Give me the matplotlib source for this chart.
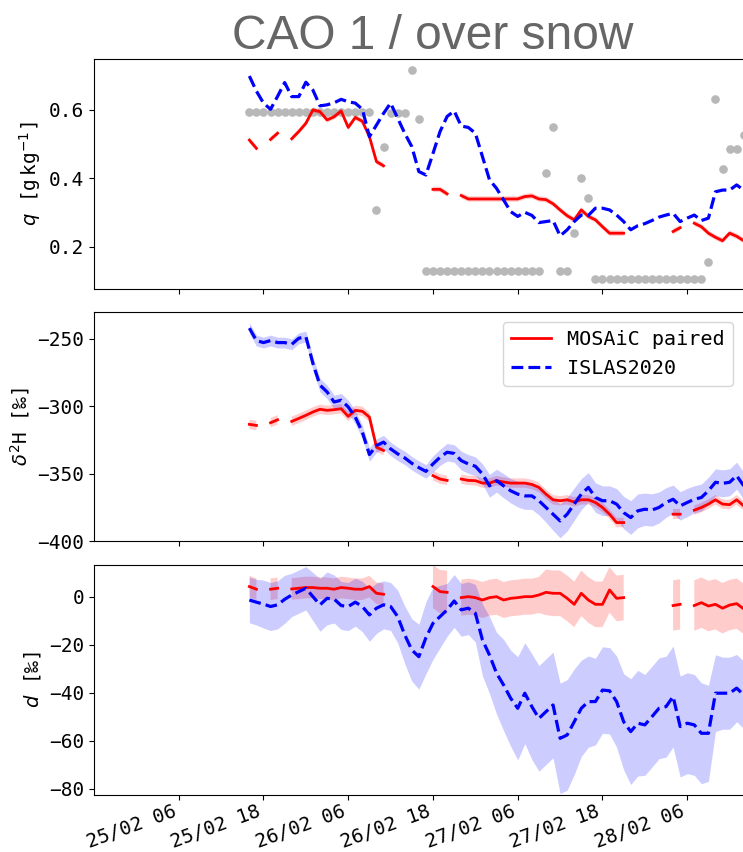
import numpy as np
import pandas as pd
import matplotlib
matplotlib.use('Agg')
import matplotlib.pyplot as plt
import matplotlib.dates as mdates

plt.rcParams['font.family'] = ['DejaVu Sans Mono', 'DejaVu Sans']

nan = np.nan

# hourly time axis, 25/02 16:00 -> 28/02 14:00
times = pd.date_range('2020-02-25 16:00', '2020-02-28 14:00', freq='h')
tick_times = pd.to_datetime(['2020-02-25 06:00', '2020-02-25 18:00', '2020-02-26 06:00',
                             '2020-02-26 18:00', '2020-02-27 06:00', '2020-02-27 18:00',
                             '2020-02-28 06:00'])

# gray dots (q panel)
dots_q = [0.595] * 18 + [0.307, 0.491, 0.592, 0.592, 0.592, 0.718, 0.575] + \
         [0.129] * 17 + [0.416, 0.550, 0.129, 0.129, 0.242, 0.402, 0.343] + \
         [0.107] * 16 + [0.156, 0.633, 0.428, 0.485, 0.485, 0.526]

islas_q = [0.699, 0.655, 0.620, 0.602, 0.640, 0.680, 0.639, 0.639, 0.681, 0.658,
           0.612, 0.615, 0.621, 0.631, 0.624, 0.620, 0.602, 0.522, 0.556, 0.590,
           0.620, 0.576, 0.532, 0.493, 0.420, 0.410, 0.473, 0.537, 0.581, 0.597,
           0.553, 0.549, 0.532, 0.464, 0.396, 0.371, 0.337, 0.303, 0.289, 0.301,
           0.292, 0.271, 0.274, 0.277, 0.232, 0.250, 0.274, 0.293, 0.292, 0.313,
           0.313, 0.308, 0.293, 0.274, 0.250, 0.262, 0.268, 0.277, 0.287, 0.293,
           0.298, 0.274, 0.284, 0.293, 0.277, 0.284, 0.361, 0.366, 0.366, 0.381,
           0.366]

mosaic_q = [0.512, 0.488, nan, 0.514, 0.532, nan, 0.516, 0.537, 0.561, 0.600,
            0.595, 0.571, 0.580, 0.597, 0.549, 0.578, 0.567, 0.522, 0.449, 0.437,
            nan, nan, nan, nan, nan, nan, 0.368, 0.368, 0.355, nan,
            0.350, 0.340, 0.340, 0.340, 0.340, 0.340, 0.340, 0.340, 0.340, 0.347,
            0.349, 0.340, 0.338, 0.326, 0.308, 0.291, 0.279, 0.308, 0.289, 0.279,
            0.259, 0.240, 0.240, 0.240, nan, nan, nan, nan, nan, nan,
            0.245, 0.256, nan, 0.269, 0.259, 0.240, 0.228, 0.218, 0.240, 0.231,
            0.218]
mosaic_q_sd = 0.008

islas_dD = [-242.0, -251.2, -252.7, -251.2, -252.7, -252.7, -254.0, -249.5, -248.3, -268.2,
            -284.3, -289.3, -296.8, -295.5, -300.5, -308.0, -319.2, -335.8, -329.1, -326.6,
            -331.6, -335.3, -338.3, -342.3, -345.5, -348.3, -342.8, -337.8, -334.1, -335.0,
            -340.3, -342.8, -344.5, -350.2, -359.0, -355.2, -359.0, -362.7, -365.2, -366.5,
            -366.5, -370.1, -375.1, -380.1, -385.1, -380.1, -372.6, -365.2, -360.2, -367.7,
            -370.1, -370.1, -372.6, -378.9, -382.6, -377.6, -376.4, -377.0, -375.1, -371.4,
            -369.0, -373.9, -371.4, -369.0, -367.7, -362.7, -356.4, -357.2, -356.4, -351.5,
            -359.0]
islas_dD_sd = [4, 4, 4, 4, 4, 4, 4, 4, 4, 5,
               5, 5, 5, 5, 5, 5, 5, 5, 5, 5,
               5, 5, 5, 5, 5, 5, 6, 6, 6.5, 6.5,
               7, 7, 7, 7.5, 8.5, 8.5, 9, 9, 9.5, 10,
               10, 10.5, 11, 12, 12.5, 12.5, 12, 11.5, 11, 11,
               11, 11, 11.5, 12, 12.5, 12.5, 12, 12, 11.5, 11,
               10.5, 10.5, 10.5, 10, 10, 10, 10, 10, 10, 10,
               10]

mosaic_dD = [-313.4, -314.2, nan, -312.2, -310.0, nan, -311.2, -309.0, -306.7, -304.2,
             -302.2, -303.0, -302.5, -301.8, -307.5, -303.0, -303.7, -308.0, -330.4, -332.8,
             nan, nan, nan, nan, nan, nan, -351.5, -354.0, -355.0, nan,
             -354.0, -355.0, -355.2, -357.0, -357.0, -355.2, -356.2, -357.0, -357.0, -357.0,
             -358.0, -360.2, -365.2, -369.4, -370.1, -369.4, -371.0, -369.4, -369.4, -371.4,
             -375.1, -380.1, -386.3, -386.3, nan, nan, nan, nan, nan, nan,
             -380.1, -380.1, nan, -377.1, -375.1, -372.6, -369.4, -372.6, -373.0, -369.4,
             -373.9]
mosaic_dD_sd = 3.5

islas_d = [-1.3, -2.2, -3.0, -4.0, -3.3, -1.0, 0.8, 2.2, 3.6, 0.1,
           -3.3, -0.6, -0.9, -3.6, -4.0, -2.2, -4.0, -7.5, -4.7, -3.3,
           -4.0, -8.2, -15.8, -22.1, -24.9, -17.0, -11.0, -8.2, -5.4, -1.7,
           -5.4, -4.7, -6.8, -17.9, -24.2, -31.8, -36.7, -42.2, -46.4, -40.1,
           -45.7, -50.6, -47.8, -45.0, -58.9, -57.5, -52.0, -46.4, -43.6, -43.6,
           -38.8, -39.1, -43.6, -52.0, -56.1, -52.6, -53.3, -49.9, -46.4, -45.7,
           -41.5, -54.0, -52.6, -53.3, -56.8, -56.8, -40.1, -40.1, -40.1, -38.0,
           -40.8]
islas_d_sd = [9.5, 9.5, 10, 10, 10, 10, 9, 9, 9, 10,
              11, 11, 10, 10, 10, 10, 10.5, 11, 10.5, 10,
              10, 11, 12, 13, 13.5, 15, 15, 13, 11, 11,
              11, 11, 12, 15, 16, 17, 19, 20, 21.5, 21,
              22, 22, 22, 22, 23, 23, 22, 20, 19, 18,
              18, 18, 19, 20, 22, 22, 21, 21, 21, 21,
              21, 21, 21, 21, 21, 20, 16, 15, 15, 14,
              14]

mosaic_d = [4.3, 3.2, nan, 3.2, 3.6, nan, 3.3, 3.6, 3.9, 3.9,
            3.6, 3.6, 3.2, 3.9, 3.6, 3.2, 3.2, 4.3, 1.5, 1.1,
            nan, nan, nan, nan, nan, nan, 4.3, 2.2, 1.9, nan,
            -0.3, 0.1, -0.3, -1.3, -0.3, 0.1, -1.3, -0.6, -0.3, 0.1,
            0.1, 0.8, 1.9, 1.5, 1.5, -0.6, -3.1, 1.5, -1.3, -3.1,
            -3.1, 2.9, -0.6, -0.3, nan, nan, nan, nan, nan, nan,
            -3.6, -3.1, nan, -3.6, -2.4, -3.8, -3.1, -4.7, -3.4, -2.8,
            -5.0]
mosaic_d_sd = [4.5] * 20 + [nan] * 6 + [9, 9, 9, nan] + [7.5] * 12 + [9.5] * 12 + \
              [nan] * 6 + [10.5] * 11

# ---- figure ----
fig = plt.figure(figsize=(7.43, 8.52), dpi=100)
left, width = 0.1265, 0.9125
ax1 = fig.add_axes([left, 0.6608, width, 0.2700])
ax2 = fig.add_axes([left, 0.3650, width, 0.2688], sharex=ax1)
ax3 = fig.add_axes([left, 0.0669, width, 0.2700], sharex=ax1)


def band(ax, y, sd, color):
    y = np.asarray(y, dtype=float)
    sd = np.asarray(sd, dtype=float)
    ax.fill_between(times, y - sd, y + sd, color=color, alpha=0.2, lw=0)


# q panel
ax1.scatter(times, dots_q, s=27, color='#b8b8b8', zorder=1)
band(ax1, mosaic_q, mosaic_q_sd, 'red')
ax1.plot(times, mosaic_q, color='red', lw=2, zorder=3)
ax1.plot(times, islas_q, color='blue', ls='--', lw=2.3, zorder=4)
ax1.set_ylim(0.077, 0.749)
ax1.set_yticks([0.2, 0.4, 0.6])
ax1.set_ylabel(r'$q$ [g$\,$kg$^{-1}$]', fontsize=14)
ax1.set_title('CAO 1 / over snow', fontsize=34.5, color='#666666',
              family='Liberation Sans', pad=2)

# dD panel
band(ax2, mosaic_dD, mosaic_dD_sd, 'red')
band(ax2, islas_dD, islas_dD_sd, 'blue')
ax2.plot(times, mosaic_dD, color='red', lw=2, label='MOSAiC paired', zorder=3)
ax2.plot(times, islas_dD, color='blue', ls='--', lw=2.3, label='ISLAS2020', zorder=4)
ax2.set_ylim(-400, -230)
ax2.set_yticks([-400, -350, -300, -250])
ax2.set_ylabel(r'$\delta^2$H [‰]', fontsize=14)
ax2.legend(loc='upper right', bbox_to_anchor=(0.9425, 0.956), borderaxespad=0,
           fontsize=14.5)

# d-excess panel
band(ax3, mosaic_d, mosaic_d_sd, 'red')
band(ax3, islas_d, islas_d_sd, 'blue')
ax3.plot(times, mosaic_d, color='red', lw=2, zorder=3)
ax3.plot(times, islas_d, color='blue', ls='--', lw=2.3, zorder=4)
ax3.set_ylim(-82.5, 13.3)
ax3.set_yticks([-80, -60, -40, -20, 0])
ax3.set_ylabel(r'$d$ [‰]', fontsize=14)

ax1.set_xlim(pd.Timestamp('2020-02-24 18:00'), pd.Timestamp('2020-02-28 18:00'))
ax3.set_xticks(tick_times)
ax3.xaxis.set_major_formatter(mdates.DateFormatter('%d/%m %H'))

for ax in (ax1, ax2, ax3):
    ax.tick_params(labelsize=14)
ax3.tick_params(axis='x', pad=1.5)
for ax in (ax1, ax2):
    plt.setp(ax.get_xticklabels(), visible=False)
plt.setp(ax3.get_xticklabels(), rotation=20, ha='right')

fig.savefig('out.png', dpi=100)
